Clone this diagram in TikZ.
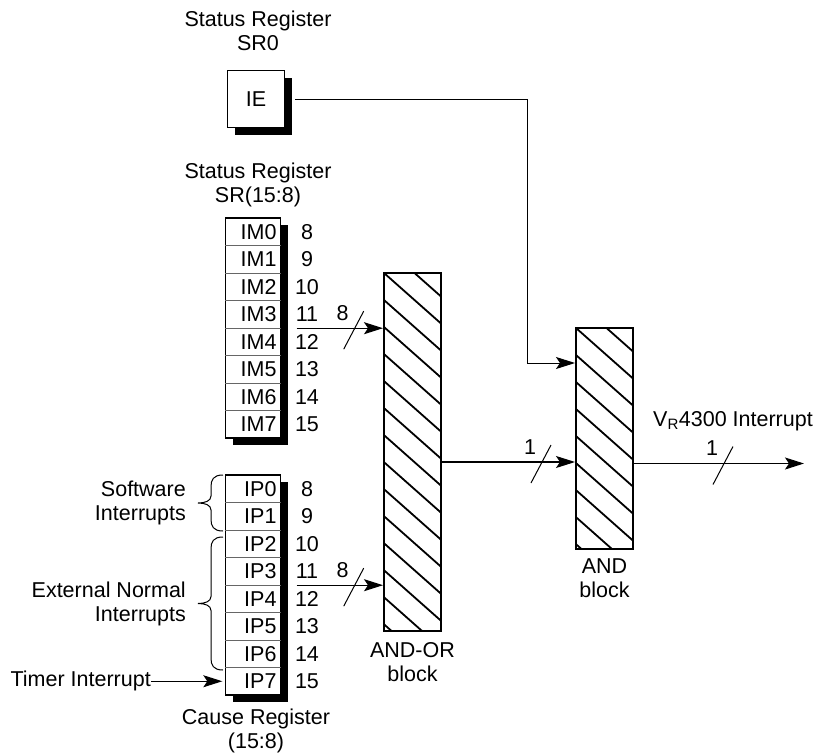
\documentclass[tikz,border=0pt]{standalone}
\usepackage{fontspec}
\setmainfont{Liberation Sans}
\usetikzlibrary{arrows.meta,positioning,shadows}

% brace opening to the left: x of the ends, top y, bottom y
\newcommand\curlybrace[3]{%
  \draw[line width=1pt] (#1,#2) .. controls +(-10,0) and +(0,-7) .. ++(-12,12)
    -- (#1-12,{(#2+#3)/2-7}) .. controls +(0,5) and +(7,0) .. (#1-25,{(#2+#3)/2})
    .. controls +(7,0) and +(0,-5) .. (#1-12,{(#2+#3)/2+7})
    -- (#1-12,#3-12) .. controls +(0,7) and +(-10,0) .. (#1,#3);}

\begin{document}
\begin{tikzpicture}[x=1pt,y=-1pt,>={Stealth[length=19pt,width=12pt,inset=4pt]},
  font=\fontsize{21.5}{24}\selectfont,
  lbl/.style={align=center,inner sep=0pt},
  reg/.style={draw,line width=1.9pt,fill=white,minimum width=55pt,inner sep=0pt,
    drop shadow={shadow xshift=7pt,shadow yshift=-7pt,opacity=1,fill=black}},
  cell/.style={inner xsep=4pt,inner ysep=0pt,text width=47pt,align=right,minimum height=27.5pt},
  sep/.style={line width=0.8pt,black!60},
  blk/.style={draw,line width=2pt,minimum width=57pt,inner sep=0pt,
    path picture={\foreach \k in {-16,...,2}
      \draw[line width=1.8pt] ([xshift=\k*30.5pt]path picture bounding box.north west) -- ++(500,443);}},
  wire/.style={line width=1.1pt}]
\path[fill=white] (0,0) rectangle (822,755);

% status register SR0
\node[reg,minimum width=57pt,minimum height=57pt] (ie) at (256,99) {IE};
\node[lbl,above=19pt of ie,xshift=2pt] (srt) {Status Register\\SR0};

% status register SR(15:8)
\node[reg,minimum height=220pt] (imreg) at (253,328) {};
\foreach \i [evaluate=\i as \n using int(\i+8)] in {0,...,7} {
  \node[cell] (im\i) at (253,231.75+27.5*\i) {IM\i};
  \node (imn\i) at (307,231.75+27.5*\i) {\n};
}
\foreach \i in {0,...,6} \draw[sep] (im\i.south west) -- (im\i.south east);
\node[lbl,above=10pt of imreg,xshift=5pt] (imt) {Status Register\\SR(15:8)};

% cause register
\node[reg,minimum height=220pt] (ipreg) at (253,585) {};
\foreach \i [evaluate=\i as \n using int(\i+8)] in {0,...,7} {
  \node[cell] (ip\i) at (253,488.75+27.5*\i) {IP\i};
  \node (ipn\i) at (307,488.75+27.5*\i) {\n};
}
\foreach \i in {0,...,6} \draw[sep] (ip\i.south west) -- (ip\i.south east);
\node[lbl,below=13pt of ipreg,xshift=3pt] (ipt) {Cause Register\\(15:8)};

% blocks
\node[blk,minimum height=358pt] (ao) at (412.5,452) {};
\node[lbl,below=10pt of ao] (aot) {AND-OR\\block};
\node[blk,minimum height=221pt] (and) at (604.5,438.5) {};
\node[lbl,below=9pt of and] (andt) {AND\\block};

% interrupt sources
\curlybrace{223}{475}{531}
\curlybrace{223}{537}{670}
\node[lbl,align=right,anchor=east] (sw) at (186,503) {Software\\Interrupts};
\node[lbl,align=right,anchor=east] (ext) at (186,603.5) {External Normal\\Interrupts};
\node[lbl,anchor=east] (timer) at (151,681.25) {Timer Interrupt};
\draw[wire,->,shorten >=3pt] (timer) -- (ip7);

% connections
\coordinate (imout) at ([xshift=16pt]im3.south east);
\coordinate (ipout) at ([xshift=16pt]ip3.south east);
\coordinate (s1) at ([xshift=74pt]im3.south east);
\coordinate (s2) at ([xshift=74pt]ip3.south east);
\coordinate (s3) at ([xshift=100pt,yshift=-10pt]ao.east);
\coordinate (s4) at ([xshift=90pt,yshift=-25pt]and.east);
\coordinate (outend) at ([xshift=170pt,yshift=-25pt]and.east);
\coordinate (bend) at ([xshift=-48pt,yshift=-36pt]and.north west);
\draw[wire,->] (imout) -- (imout -| ao.west);
\draw[wire,->] (ipout) -- (ipout -| ao.west);
\draw[wire,->] ([yshift=-10pt]ao.east) -- ([yshift=-10pt]ao.east -| and.west);
\draw[wire,->] ([yshift=-25pt]and.east) -- (outend);
\draw[line width=1pt,->] ([xshift=10pt]ie.east) -| (bend) -- (bend -| and.west);
\foreach \s/\t in {s1/8,s2/8,s3/1,s4/1} {
  \draw[line width=1pt] ([shift={(-11,21)}]\s) -- ([shift={(9,-17)}]\s);
  \node at ([shift={(-12,-15)}]\s) {\t};
}
\node[lbl] (vri) at (733,421) {V\textsubscript{R}4300 Interrupt};
\end{tikzpicture}
\end{document}
